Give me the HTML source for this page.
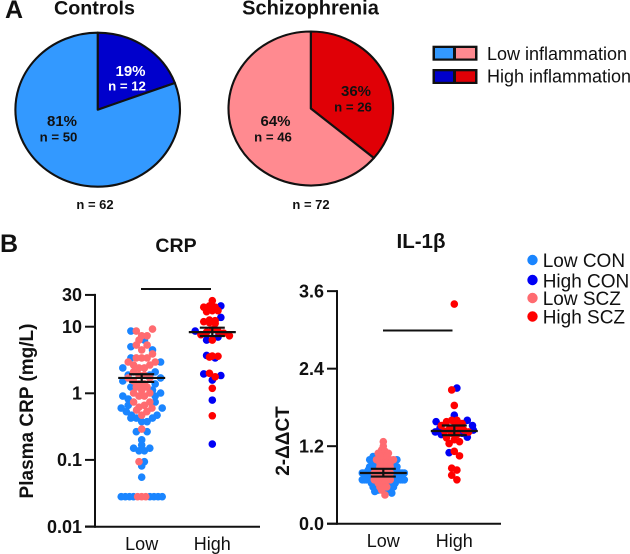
<!DOCTYPE html>
<html lang="en">
<head>
<meta charset="utf-8">
<title>Inflammation pies and biomarker swarm plots</title>
<style>
html,body{margin:0;padding:0;background:#fff;width:630px;height:554px;overflow:hidden}
svg{display:block}
text{font-family:"Liberation Sans",Arial,sans-serif;fill:#111}
.b{font-weight:bold}
</style>
</head>
<body>
<svg id="fig" xmlns="http://www.w3.org/2000/svg" width="630" height="554" viewBox="0 0 630 554">
  <text class="b" x="5" y="18" font-size="25">A</text>
  <text class="b" x="94.5" y="14.5" font-size="19.7" text-anchor="middle">Controls</text>
  <text class="b" x="310.5" y="14.5" font-size="20" text-anchor="middle">Schizophrenia</text>
  <g id="pies"></g>
  <text class="b" x="130.5" y="76" font-size="15" text-anchor="middle" style="fill:#fff">19%</text>
  <text class="b" x="127" y="90.7" font-size="13.2" text-anchor="middle" style="fill:#fff">n = 12</text>
  <text class="b" x="62" y="126" font-size="15" text-anchor="middle">81%</text>
  <text class="b" x="58.5" y="141.7" font-size="13.2" text-anchor="middle">n = 50</text>
  <text class="b" x="356" y="96" font-size="15" text-anchor="middle">36%</text>
  <text class="b" x="353" y="111.7" font-size="13.2" text-anchor="middle">n = 26</text>
  <text class="b" x="275.5" y="126" font-size="15" text-anchor="middle">64%</text>
  <text class="b" x="273" y="141.7" font-size="13.2" text-anchor="middle">n = 46</text>
  <text class="b" x="95" y="209" font-size="13" text-anchor="middle">n = 62</text>
  <text class="b" x="311" y="209" font-size="13" text-anchor="middle">n = 72</text>

  <g>
    <rect x="432.5" y="45.7" width="45" height="15" fill="#111"/>
    <rect x="435" y="48" width="18" height="10.5" fill="#3399FF"/>
    <rect x="456" y="48" width="19" height="10.5" fill="#FF8A90"/>
    <text x="487" y="60" font-size="18">Low inflammation</text>
    <rect x="432.5" y="69" width="45" height="15" fill="#111"/>
    <rect x="435" y="71.3" width="18" height="10.5" fill="#0000CC"/>
    <rect x="456" y="71.3" width="19" height="10.5" fill="#E00006"/>
    <text x="487" y="82.5" font-size="18">High inflammation</text>
  </g>

  <text class="b" x="0" y="252" font-size="25">B</text>
  <text class="b" x="176" y="252" font-size="19.5" text-anchor="middle">CRP</text>
  <text class="b" x="421" y="248" font-size="20.5" text-anchor="middle">IL-1β</text>
  <text class="b" transform="translate(33,411) rotate(-90)" font-size="19" text-anchor="middle">Plasma CRP (mg/L)</text>
  <text class="b" transform="translate(289,441) rotate(-90)" font-size="19" text-anchor="middle">2-ΔΔCT</text>

  <g id="crp"></g>
  <g id="il"></g>

  <g>
    <circle cx="532.5" cy="260" r="5.2" fill="#1A85FF"/>
    <text x="542.7" y="267" font-size="19">Low CON</text>
    <circle cx="532.5" cy="280" r="5.2" fill="#0000F5"/>
    <text x="542.7" y="287.5" font-size="19">High CON</text>
    <circle cx="532.5" cy="298" r="5.2" fill="#FF6B70"/>
    <text x="542.7" y="305" font-size="19">Low SCZ</text>
    <circle cx="532.5" cy="316.5" r="5.2" fill="#FF0000"/>
    <text x="542.7" y="323.5" font-size="19">High SCZ</text>
  </g>
</svg>
<script>
// ---------- pie data ----------
var controlsCounts = [12, 50];
var schizophreniaCounts = [26, 46];

// ---------- CRP data (mg/L) ----------
var crpCategories = ['Low', 'High'];
var crpTicks = [30, 10, 1, 0.1, 0.01];
var crpTickLabels = ['30', '10', '1', '0.1', '0.01'];
var crpLowCon = [0.028,0.028,0.028,0.028,0.028,0.028,0.028,0.028,0.055,0.081,0.094,0.137,0.137,0.15,0.15,0.167,0.2,0.265,0.265,0.375,0.375,0.425,0.425,0.425,0.47,0.47,0.53,0.6,0.6,0.66,0.74,0.82,0.91,0.91,1.01,1.12,1.24,1.38,1.53,1.7,1.88,1.88,2.09,2.4,2.95,3.4,4.48,5,6.3,8.6];
var crpLowScz = [0.028,0.028,0.028,0.094,0.29,0.47,0.53,0.56,0.6,0.62,0.66,0.74,0.74,0.91,0.91,1.01,1.01,1.12,1.24,1.24,1.38,1.38,1.53,1.7,1.7,1.88,1.88,2.09,2.4,2.4,2.66,2.66,2.95,2.95,3.4,3.4,3.4,3.9,4.48,5.3,5.3,6.3,7.3,7.3,8.6,9.2];
var crpHighCon = [20.5,13.8,8.6,7,6.3,3.7,3.4,1.95,1.85,1.58,0.79,0.173];
var crpHighScz = [24.6,20.5,19.6,19.6,17.4,17.4,16.8,12.6,12.3,11.9,11.5,11.2,9,8.6,8.3,8,7.6,7.3,6.3,3.63,3.6,3.5,2,1.77,1.19,0.46];
var crpMeans = [1.7, 8.3];
var crpUpper = [1.93, 9.66];
var crpLower = [1.48, 7.25];

// ---------- IL-1b data ----------
var ilCategories = ['Low', 'High'];
var ilTicks = [3.6, 2.4, 1.2, 0];
var ilTickLabels = ['3.6', '2.4', '1.2', '0.0'];
var ilLowCon = [1.04,0.99,0.99,0.94,0.94,0.94,0.88,0.88,0.88,0.88,0.88,0.83,0.83,0.83,0.83,0.83,0.83,0.785,0.785,0.785,0.785,0.785,0.785,0.785,0.73,0.73,0.73,0.73,0.73,0.73,0.73,0.68,0.68,0.68,0.68,0.68,0.68,0.63,0.63,0.63,0.63,0.63,0.57,0.57,0.57,0.57,0.52,0.52,0.5,0.475];
var ilLowScz = [1.27,1.2,1.14,1.12,1.09,1.09,1.04,1.04,1.04,0.99,0.99,0.99,0.94,0.94,0.94,0.94,0.88,0.88,0.88,0.88,0.83,0.83,0.83,0.83,0.785,0.785,0.785,0.785,0.785,0.73,0.73,0.73,0.73,0.73,0.68,0.68,0.68,0.68,0.63,0.63,0.63,0.57,0.57,0.57,0.52,0.445];
var ilHighCon = [2.1,1.68,1.6,1.58,1.52,1.48,1.45,1.42,1.4,1.38,1.34,1.1];
var ilHighScz = [3.4,2.07,1.83,1.6,1.6,1.58,1.55,1.52,1.5,1.5,1.47,1.45,1.43,1.42,1.4,1.38,1.33,1.3,1.27,1.24,1.12,1.05,0.86,0.83,0.75,0.68];
var ilMeans = [0.785, 1.435];
var ilUpper = [0.85, 1.52];
var ilLower = [0.73, 1.37];

// ---------- helpers ----------
var NS = 'http://www.w3.org/2000/svg';
function make(tag, attrs, parent) {
  var e = document.createElementNS(NS, tag);
  for (var k in attrs) e.setAttribute(k, attrs[k]);
  parent.appendChild(e);
  return e;
}
function drawPie(parent, cx, cy, rx, ry, counts, colors, prefix) {
  var total = counts.reduce(function (a, b) { return a + b; }, 0);
  var a0 = 0;
  counts.forEach(function (c, i) {
    var a1 = a0 + c / total * 2 * Math.PI;
    var x0 = cx + rx * Math.sin(a0), y0 = cy - ry * Math.cos(a0);
    var x1 = cx + rx * Math.sin(a1), y1 = cy - ry * Math.cos(a1);
    var large = (a1 - a0) > Math.PI ? 1 : 0;
    var p = make('path', {
      d: 'M' + cx + ' ' + cy + 'L' + x0 + ' ' + y0 + 'A' + rx + ' ' + ry + ' 0 ' + large + ' 1 ' + x1 + ' ' + y1 + 'Z',
      fill: colors[i], stroke: '#111', 'stroke-width': 2.1, 'stroke-linejoin': 'round'
    }, parent);
    
    
    a0 = a1;
  });
}
function swarm(groups, cx, yOf, maxWidth, maxStep, binH) {
  // SCZ points fill a bin from the centre outwards, CON points take the edges
  var bins = {};
  groups.forEach(function (g, gi) {
    g.values.forEach(function (v) {
      var y = yOf(v);
      var key = Math.floor(y / binH);
      (bins[key] = bins[key] || []).push({ y: y, g: gi });
    });
  });
  var out = [];
  Object.keys(bins).forEach(function (key) {
    var pts = bins[key].sort(function (a, b) { return b.g - a.g; });
    var step = pts.length > 1 ? Math.min(maxStep, maxWidth / (pts.length - 1)) : 0;
    var odd = pts.length % 2 === 1;
    pts.forEach(function (p, i) {
      var k = Math.ceil((i + (odd ? 0 : 1)) / 2);
      var off = odd ? k : k - 0.5;
      var sign = i % 2 === 0 ? -1 : 1;
      p.x = cx + sign * off * step;
      out.push(p);
    });
  });
  return out.sort(function (a, b) { return a.g - b.g; });
}
function drawChart(parent, cfg) {
  var t = parent;
  // axes
  var yAxis = make('line', { x1: cfg.axisX, x2: cfg.axisX, y1: cfg.y(cfg.ticks[0]) - 1, y2: cfg.baseY + 1, stroke: '#111', 'stroke-width': 2 }, t);
  
  
  var xAxis = make('line', { x1: cfg.axisX - 10, x2: cfg.axisEnd, y1: cfg.baseY, y2: cfg.baseY, stroke: '#111', 'stroke-width': 2 }, t);
  
  
  cfg.ticks.forEach(function (v, i) {
    var y = cfg.y(v);
    var tk = make('line', { x1: cfg.axisX - 10, x2: cfg.axisX, y1: y, y2: y, stroke: '#111', 'stroke-width': 2 }, t);
    
    
    var lb = make('text', { x: cfg.axisX - 13, y: y + 6.3, 'font-size': 18, 'font-weight': 'bold', 'text-anchor': 'end' }, t);
    lb.textContent = cfg.tickLabels[i];
    
    
  });
  // points, means, categories
  cfg.categories.forEach(function (c, i) {
    var cx = cfg.xs[i];
    swarm(cfg.groups[i], cx, cfg.y, cfg.maxWidth[i], cfg.maxStep[i], cfg.binH[i]).forEach(function (p) {
      var d = make('circle', { cx: p.x, cy: p.y, r: 3.8, fill: cfg.groups[i][p.g].color }, t);
      
      
    });
    var ym = cfg.y(cfg.means[i]), yu = cfg.y(cfg.upper[i]), yl = cfg.y(cfg.lower[i]);
    var segs = [[cx - 23.5, ym, cx + 23.5, ym], [cx - 12.5, yu, cx + 12.5, yu], [cx - 12.5, yl, cx + 12.5, yl], [cx, yu, cx, yl]];
    segs.forEach(function (s) {
      var m = make('line', { x1: s[0], y1: s[1], x2: s[2], y2: s[3], stroke: '#111', 'stroke-width': 2.2 }, t);
      
      
    });
    var lab = make('text', { x: cx, y: cfg.labelY, 'font-size': 18, 'text-anchor': 'middle' }, t);
    lab.textContent = c;
    
    
  });
  var sig = make('line', { x1: cfg.sig[0], x2: cfg.sig[1], y1: cfg.sig[2], y2: cfg.sig[2], stroke: '#111', 'stroke-width': 2 }, t);
  
  
}

// ---------- draw ----------
var colLowCon = '#1A85FF', colLowScz = '#FF6B70', colHighCon = '#0000F5', colHighScz = '#FF0000';
var pies = document.getElementById('pies');
drawPie(pies, 97.7, 109.7, 82.3, 77, controlsCounts, ['#0000CC', '#3399FF'], 'controls');
drawPie(pies, 310.8, 108.5, 82.3, 77, schizophreniaCounts, ['#E00006', '#FF8A90'], 'schizophrenia');

function yCrp(v) { return 393.3 - 66.6 * Math.log10(v); }
function yIl(v) { return 523.7 - 64.6 * v; }

drawChart(document.getElementById('crp'), {
  id: 'crp', y: yCrp, ticks: crpTicks, tickLabels: crpTickLabels, categories: crpCategories,
  axisX: 95, axisEnd: 260, baseY: 526.7, labelY: 550, xs: [141.7, 212.3],
  means: crpMeans, upper: crpUpper, lower: crpLower, sig: [141, 211, 289],
  maxWidth: [41, 41], maxStep: [5.4, 5.7], binH: [8, 7],
  groups: [
    [{ values: crpLowCon, color: colLowCon }, { values: crpLowScz, color: colLowScz }],
    [{ values: crpHighCon, color: colHighCon }, { values: crpHighScz, color: colHighScz }]
  ]
});
drawChart(document.getElementById('il'), {
  id: 'il1b', y: yIl, ticks: ilTicks, tickLabels: ilTickLabels, categories: ilCategories,
  axisX: 337, axisEnd: 501, baseY: 523.7, labelY: 547, xs: [383.3, 454.3],
  means: ilMeans, upper: ilUpper, lower: ilLower, sig: [383, 452.5, 330.5],
  maxWidth: [42, 38], maxStep: [3.4, 5.2], binH: [5, 6],
  groups: [
    [{ values: ilLowCon, color: colLowCon }, { values: ilLowScz, color: colLowScz }],
    [{ values: ilHighCon, color: colHighCon }, { values: ilHighScz, color: colHighScz }]
  ]
});
</script>
</body>
</html>
